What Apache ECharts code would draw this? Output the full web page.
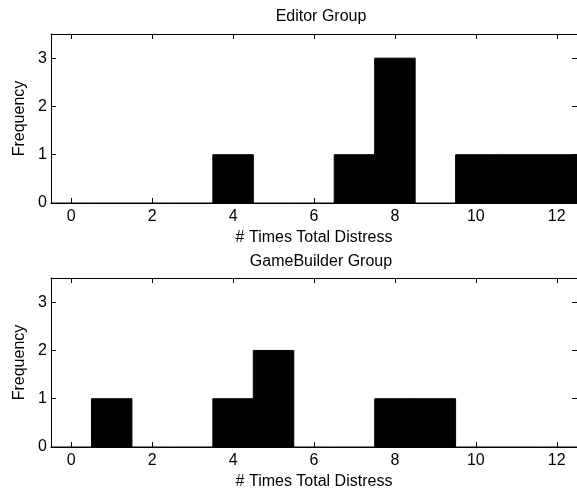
<!DOCTYPE html>
<html>
<head>
<meta charset="utf-8">
<script src="https://cdn.jsdelivr.net/npm/echarts@6.0.0/dist/echarts.min.js"></script>
<style>
  html, body { margin: 0; padding: 0; background: #fff; }
  #chart { width: 577px; height: 495px; }
</style>
</head>
<body>
<div id="chart"></div>
<script>
// Histogram bins (# times total distress) and counts
const bins = [0, 1, 2, 3, 4, 5, 6, 7, 8, 9, 10, 11, 12];
const editorCounts = [0, 0, 0, 0, 1, 0, 0, 1, 3, 0, 1, 1, 1];
const gameBuilderCounts = [0, 1, 0, 0, 1, 2, 0, 0, 1, 1, 0, 0, 0];
const xTicks = [0, 2, 4, 6, 8, 10, 12];
const yTicks = [0, 1, 2, 3];
const titles = ['Editor Group', 'GameBuilder Group'];

const font = 'Liberation Sans, Arial, sans-serif';
const chart = echarts.init(document.getElementById('chart'));

const grids = [
  { left: 51, right: -6, top: 34, height: 169 },
  { left: 51, right: -6, top: 278, height: 169 }
];

function histData(counts) {
  return bins.map((b, i) => [b, counts[i]]);
}

// draw each bin as a rectangle from x-0.5 to x+0.5
function renderBin(params, api) {
  const x = api.value(0);
  const y = api.value(1);
  const p0 = api.coord([x - 0.5, 0]);
  const p1 = api.coord([x + 0.5, y]);
  if (y === 0) {
    return {
      type: 'line',
      shape: { x1: p0[0], y1: p0[1], x2: p1[0], y2: p0[1] },
      style: { stroke: '#000', lineWidth: 1 }
    };
  }
  return {
    type: 'rect',
    shape: { x: p0[0], y: p1[1], width: p1[0] - p0[0], height: p0[1] - p1[1] },
    style: { fill: '#000', stroke: '#000', lineWidth: 1 }
  };
}

const xAxes = [];
const yAxes = [];
const series = [];
[editorCounts, gameBuilderCounts].forEach((counts, g) => {
  const base = {
    type: 'value', gridIndex: g, min: -0.5, max: 12.5,
    splitLine: { show: false },
    axisLine: { show: true, onZero: false, lineStyle: { color: '#000', width: 1 } },
    axisTick: { show: true, inside: true, length: 5, lineStyle: { color: '#000' }, customValues: xTicks },
  };
  xAxes.push(Object.assign({}, base, {
    position: 'bottom',
    name: '# Times Total Distress', nameLocation: 'middle', nameGap: 27,
    nameTextStyle: { color: '#000', fontSize: 16, fontFamily: font },
    axisLabel: { color: '#000', fontSize: 16, fontFamily: font, margin: 6, customValues: xTicks }
  }));
  xAxes.push(Object.assign({}, base, {
    position: 'top', axisLabel: { show: false }
  }));
  const ybase = {
    type: 'value', gridIndex: g, min: 0, max: 3.5,
    splitLine: { show: false },
    axisLine: { show: true, onZero: false, lineStyle: { color: '#000', width: 1 } },
    axisTick: { show: true, inside: true, length: 5, lineStyle: { color: '#000' }, customValues: yTicks }
  };
  yAxes.push(Object.assign({}, ybase, {
    position: 'left',
    name: 'Frequency', nameLocation: 'middle', nameGap: 23,
    nameTextStyle: { color: '#000', fontSize: 16, fontFamily: font },
    axisLabel: { color: '#000', fontSize: 16, fontFamily: font, margin: 4, customValues: yTicks }
  }));
  yAxes.push(Object.assign({}, ybase, {
    position: 'right', axisLabel: { show: false }
  }));
  series.push({
    type: 'custom',
    xAxisIndex: g * 2, yAxisIndex: g * 2,
    renderItem: renderBin,
    data: histData(counts),
    clip: false,
    silent: true
  });
});

chart.setOption({
  backgroundColor: '#fff',
  animation: false,
  title: titles.map((t, g) => ({
    text: t,
    left: 316, top: g === 0 ? 4 : 249,
    textAlign: 'center',
    textStyle: { color: '#000', fontSize: 16, fontWeight: 'normal', fontFamily: font }
  })),
  grid: grids,
  xAxis: xAxes,
  yAxis: yAxes,
  series: series
});
</script>
</body>
</html>
